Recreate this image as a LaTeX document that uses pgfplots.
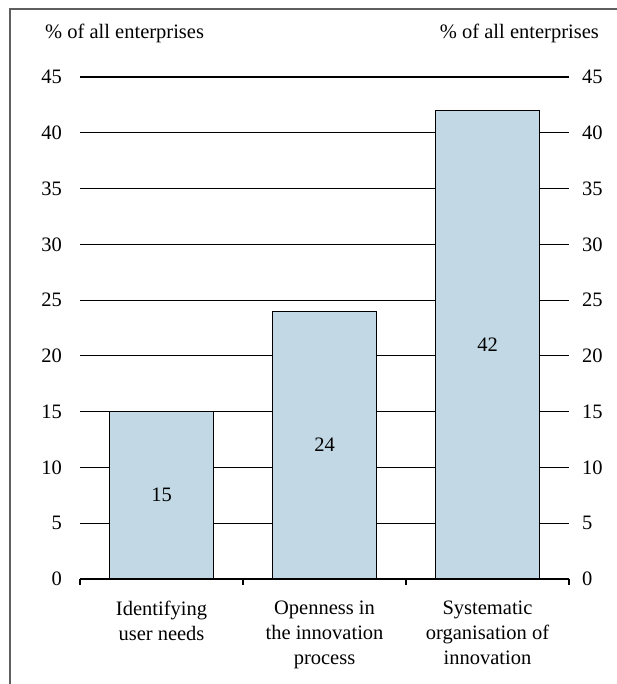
\documentclass[border=0pt]{standalone}
\usepackage{fontspec}
\setmainfont{Liberation Serif}
\usepackage{pgfplots}
\pgfplotsset{compat=1.18}
\definecolor{barblue}{RGB}{194,217,229}
\definecolor{framegray}{RGB}{95,95,95}

\begin{document}
\fontsize{20.5bp}{25bp}\selectfont
\begin{tikzpicture}[x=1bp,y=1bp]
\useasboundingbox (0,0) rectangle (617,684);
% surrounding frame (open towards the right and bottom edges)
\begin{scope}
\clip (0,0) rectangle (617,684);
\draw[framegray, line width=2bp] (10,-20) rectangle (640,675);
\end{scope}
\pgfplotsset{
  common/.style={
    at={(80bp,105bp)}, anchor=south west,
    width=489bp, height=502bp, scale only axis,
    xmin=-0.5, xmax=2.5, ymin=0, ymax=45,
    ytick={0,5,...,45},
    /pgf/number format/assume math mode=true,
    tick label style={font=\fontsize{20.5bp}{25bp}\selectfont},
    major tick length=0pt,
  }
}
\begin{axis}[common,
  axis x line*=bottom, axis y line*=left,
  y axis line style={draw=none},
  x axis line style={black, line width=1.2bp},
  xtick={0,1,2},
  xticklabels={Identifying\\user needs, Openness in\\the innovation\\process, Systematic\\organisation of\\innovation},
  xticklabel style={align=center, yshift=-15bp},
  minor xtick={-0.5,0.5,1.5,2.5},
  minor tick length=6bp,
  tick align=outside,
  minor x tick style={black, line width=1.2bp},
  ymajorgrids,
  major grid style={black, line width=1.2bp},
  yticklabel style={anchor=east, xshift=-11bp},
]
\addplot[ybar, bar width=104bp, fill=barblue, draw=black, line width=1.2bp,
  visualization depends on=rawy \as \rawy,
  nodes near coords,
  every node near coord/.append style={font=\fontsize{20.5bp}{25bp}\selectfont, anchor=center,
    shift={(axis direction cs:0,-\rawy/2)}},
] coordinates {(0,15) (1,24) (2,42)};
\end{axis}
\begin{axis}[common,
  axis x line=none, axis y line*=right,
  y axis line style={draw=none},
  xtick=\empty,
  yticklabel style={anchor=west, xshift=6bp},
]
\addplot[draw=none] coordinates {(0,0)};
\end{axis}
\node[anchor=base west, inner sep=0pt] at (45,645) {\% of all enterprises};
\node[anchor=base east, inner sep=0pt] at (599,645) {\% of all enterprises};
\end{tikzpicture}
\end{document}
